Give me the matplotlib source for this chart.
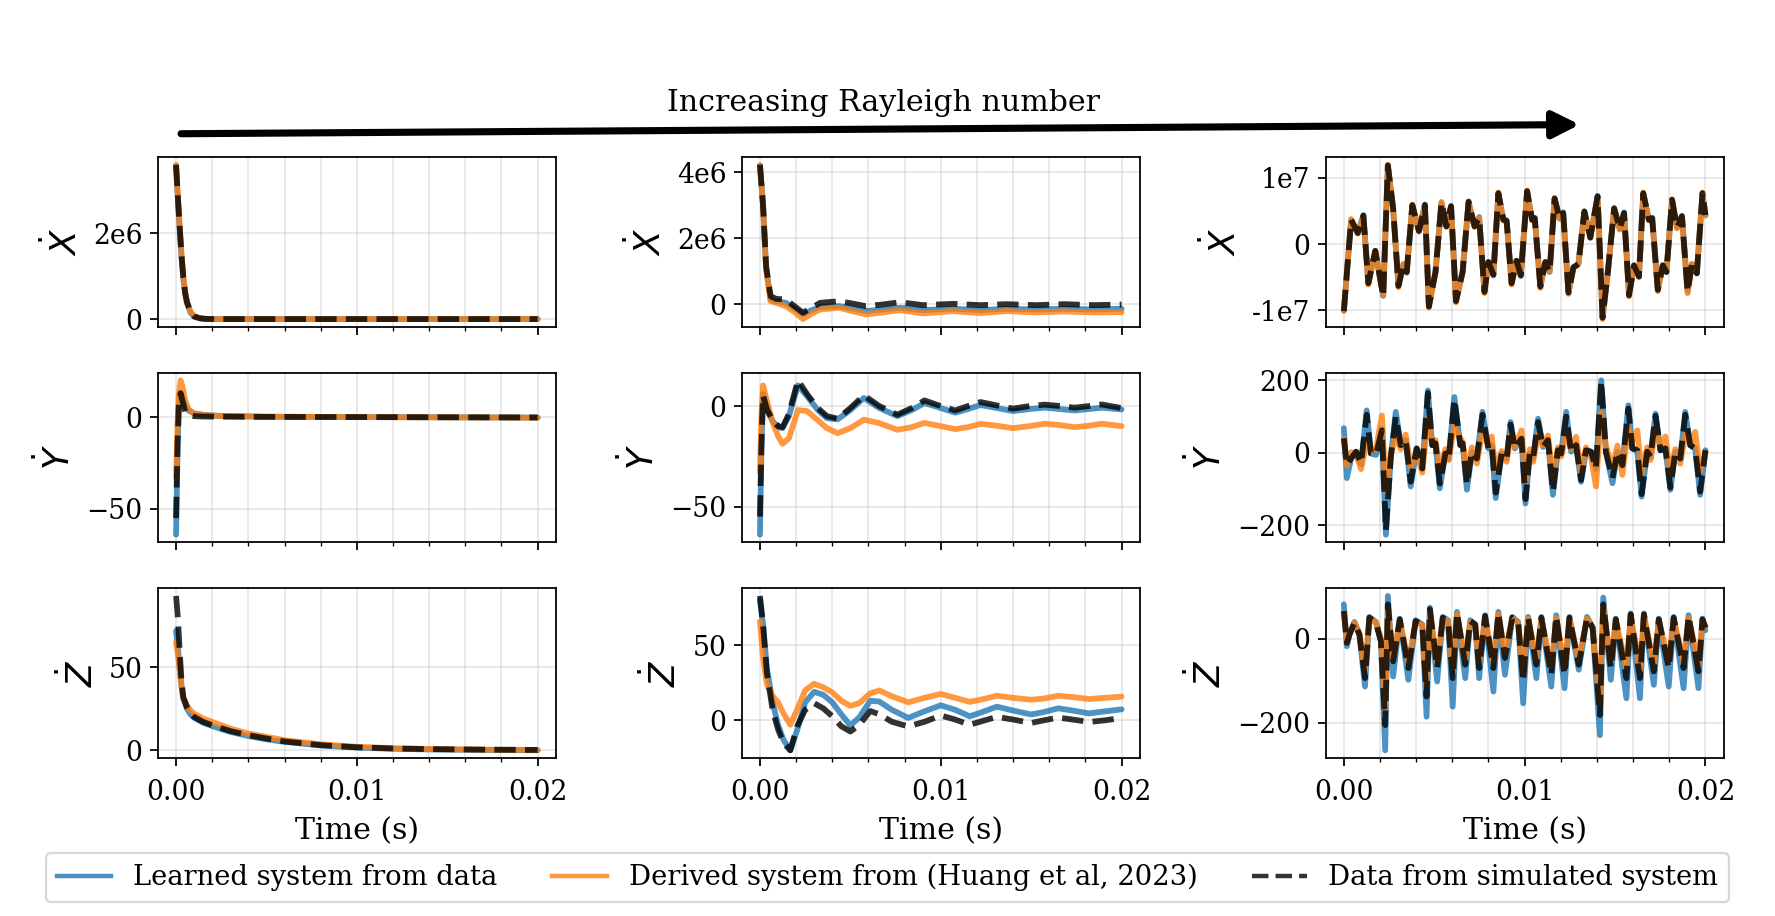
import numpy as np
import matplotlib
matplotlib.use("Agg")
import matplotlib.pyplot as plt
from matplotlib.lines import Line2D
from matplotlib.patches import FancyArrowPatch
from matplotlib.ticker import MultipleLocator, FormatStrFormatter, FuncFormatter

plt.rcParams['font.family'] = ['DejaVu Serif']
plt.rcParams['font.size'] = 12
plt.rcParams['xtick.labelsize'] = 12
plt.rcParams['ytick.labelsize'] = 12
plt.rcParams['xtick.major.pad'] = 6

# ---------------- data (time in ms) ----------------
# Column 1 (lowest Rayleigh number)
t1x = [0, 0.1, 0.2, 0.3, 0.4, 0.5, 0.6, 0.8, 1.0, 1.3, 1.6, 2.0, 20.0]
x1_learn = [3.55e6, 2.80e6, 2.10e6, 1.45e6, 0.95e6, 0.60e6, 0.38e6, 0.15e6, 0.06e6, 0.02e6, 0.005e6, 0.0, 0.0]
x1_deriv = [3.60e6, 2.86e6, 2.17e6, 1.52e6, 1.00e6, 0.63e6, 0.41e6, 0.17e6, 0.07e6, 0.02e6, 0.005e6, 0.0, 0.0]
x1_sim = [3.60e6, 2.85e6, 2.15e6, 1.50e6, 0.98e6, 0.62e6, 0.40e6, 0.16e6, 0.06e6, 0.02e6, 0.005e6, 0.0, 0.0]

t1y = [0, 0.08, 0.15, 0.25, 0.35, 0.5, 0.7, 1.0, 1.5, 2.5, 5, 10, 20]
y1_learn = [-64, -20, 5, 13, 11, 6, 3.5, 2, 1.2, 0.6, 0.2, 0.0, -0.3]
y1_deriv = [-33, -5, 12, 20, 17, 9, 4, 2, 1.2, 0.6, 0.2, 0.0, -0.3]
y1_sim = [-55, -15, 6, 13, 9, 3, 1, 0.5, 0.3, 0.2, 0.1, 0.0, -0.2]

t1z = [0, 0.1, 0.2, 0.3, 0.4, 0.6, 0.8, 1.0, 1.5, 2.0, 3.0, 4.0, 5.0, 6.0, 8.0, 10, 12, 14, 17, 20]
z1_learn = [72, 62, 50, 39, 31, 25, 21.5, 19.5, 16.5, 14.5, 11, 8.5, 6.5, 5, 2.8, 1.5, 0.8, 0.4, 0.1, -0.1]
z1_deriv = [65, 58, 48, 38, 31, 27, 24, 22, 19, 17, 13, 10, 8, 6, 3.5, 2, 1.2, 0.7, 0.3, 0.1]
z1_sim = [93, 80, 60, 42, 32, 26, 22, 20, 17, 15, 11.5, 9, 7, 5.2, 3, 1.7, 1.0, 0.6, 0.3, 0.1]

# Column 2
t2x = [0, 0.17, 0.34, 0.59, 0.9, 1.43, 1.9, 2.38, 2.85, 3.33, 4.38, 5.1, 5.85, 6.8, 7.75,
       9.0, 10.7, 12.2, 13.6, 15.3, 16.8, 18.5, 20]
x2_learn = [4.2e6, 3.0e6, 1.1e6, 0.15e6, 0.1e6, 0.05e6, -0.12e6, -0.3e6, -0.17e6, -0.08e6, -0.05e6,
            -0.12e6, -0.2e6, -0.15e6, -0.1e6, -0.17e6, -0.13e6, -0.17e6, -0.13e6, -0.15e6, -0.13e6,
            -0.15e6, -0.13e6]
x2_deriv = [4.2e6, 3.0e6, 1.05e6, 0.1e6, 0.05e6, -0.05e6, -0.22e6, -0.44e6, -0.28e6, -0.15e6, -0.1e6,
            -0.2e6, -0.3e6, -0.24e6, -0.17e6, -0.27e6, -0.2e6, -0.26e6, -0.2e6, -0.24e6, -0.21e6,
            -0.24e6, -0.23e6]
x2_sim = [4.22e6, 3.0e6, 1.16e6, 0.25e6, 0.17e6, 0.15e6, -0.05e6, -0.25e6, -0.1e6, 0.05e6, 0.1e6,
          0.03e6, -0.05e6, 0.0, 0.07e6, -0.02e6, 0.02e6, -0.02e6, 0.01e6, -0.02e6, 0.01e6, -0.02e6, 0.0]

t2y = [0, 0.08, 0.17, 0.4, 0.7, 1.0, 1.25, 1.6, 2.1, 2.6, 3.2, 3.7, 4.3, 5.0, 5.75, 6.6, 7.6,
       8.4, 9.1, 10.0, 10.8, 11.5, 12.2, 13.1, 14.0, 14.9, 15.75, 16.6, 17.4, 18.2, 18.9, 20]
y2_learn = [-64, -22, 6, -2, -7.5, -10.5, -11, -5, 10.3, 5, -2, -6, -6.6, -2, 4.0, -1, -5.0, -2,
            1.5, -1, -3.3, -1.5, 0.5, -1, -2.5, -1.5, -0.8, -1.5, -2.2, -1.5, -0.8, -1.7]
y2_deriv = [-33, -5, 10.3, 2, -8, -15, -18.8, -16, -2, -2.5, -7, -11, -13.5, -11, -6.8, -8.5,
            -11.8, -10.5, -8.4, -10, -11.5, -10.5, -8.9, -9.8, -11, -10, -8.8, -9.5, -10.5, -9.8,
            -8.8, -10]
y2_sim = [-55, -20, 5.3, -2, -7, -10, -10.5, -4, 12.8, 6, -1, -5, -6.3, -1, 5.3, 0, -4.3, -1,
          2.8, 0, -2.2, 0, 2.0, 0.3, -1.3, 0, 0.7, 0, -0.8, 0, 0.8, -1]

t2z = [0, 0.17, 0.38, 0.7, 1.0, 1.3, 1.68, 2.06, 2.5, 3.0, 3.5, 4.0, 4.5, 5.0, 5.5, 6.1, 6.6,
       7.3, 8.2, 9.1, 10.0, 10.8, 11.6, 12.3, 13.1, 14.0, 15.0, 15.7, 16.5, 17.3, 18.2, 19.1, 20]
z2_learn = [80, 64, 35, 12, -3, -13, -20, -6.4, 11.9, 19, 17, 12, 4, -3.5, 2, 13, 12.5, 7, 1.6,
            6, 10, 7, 2.7, 5.5, 9.1, 6.5, 3.9, 5.5, 8, 6.5, 4.6, 6, 7.3]
z2_deriv = [66, 42, 24, 16, 12, 4.6, -3, 7.3, 20, 24.4, 22, 18.7, 13, 9.6, 11.5, 18, 19.9, 16,
            12, 15, 17.6, 15, 12.3, 14, 16.4, 15, 13.7, 14.5, 16.4, 15.5, 14.2, 15, 15.8]
z2_sim = [83, 64, 32, 7, -6, -15, -20, -4, 7, 11.4, 8, 2.7, -4, -7.5, -3, 6.2, 4, -1, -4.1, -1,
          3.2, 0.5, -3, -0.5, 2.3, 0.5, -1.8, 0, 1.8, 0.5, -1.1, 0, 1.6]

# Column 3 (highest Rayleigh number)
t3x = [0.000, 0.403, 0.769, 1.080, 1.354, 1.738, 2.177, 2.434, 2.726, 3.019,
       3.294, 3.477, 3.788, 4.154, 4.483, 4.703, 5.069, 5.398, 5.672, 5.929,
       6.203, 6.569, 6.898, 7.228, 7.484, 7.777, 7.996, 8.271, 8.545, 8.820,
       9.003, 9.277, 9.552, 9.789, 10.137, 10.411, 10.558, 10.869, 11.143, 11.381,
       11.656, 11.930, 12.131, 12.424, 12.699, 12.973, 13.303, 13.632, 14.035, 14.309,
       14.583, 14.950, 15.261, 15.498, 15.773, 16.047, 16.322, 16.560, 16.871, 17.054,
       17.365, 17.639, 17.841, 18.152, 18.426, 18.700, 19.012, 19.250, 19.524, 19.835, 20.0]
x3_sim = [-10.1, 3.7, 1.7, 4.3, -5.9, -1.0, -7.9, 11.9, 5.4, -6.3,
          -3.0, -4.2, 5.9, 2.0, 5.9, -9.4, -4.2, 6.3, 2.7, 5.7,
          -8.6, -4.2, 6.4, 2.7, 4.0, -7.2, -2.7, -4.6, 7.7, 3.7,
          3.5, -5.9, -2.5, -4.7, 8.0, 3.7, 3.9, -6.4, -2.7, -4.2,
          6.9, 3.9, 4.7, -7.3, -3.5, -3.0, 4.9, 1.0, 7.2, -11.1,
          -4.7, 5.4, 2.3, 4.7, -7.7, -3.2, -4.9, 7.7, 3.7, 3.9,
          -6.9, -3.2, -4.2, 6.7, 2.5, 4.2, -7.2, -3.0, -4.4, 7.7, 4.4]
x3_learn = [-10.0, 3.6, 1.7, 4.4, -5.8, -1.0, -7.8, 11.8, 5.4, -6.2,
            -3.0, -4.3, 5.8, 2.0, 6.0, -9.3, -4.2, 6.2, 2.7, 5.8,
            -8.5, -4.2, 6.3, 2.7, 4.1, -7.1, -2.7, -4.7, 7.6, 3.7,
            3.6, -5.8, -2.5, -4.8, 7.9, 3.7, 4.0, -6.3, -2.7, -4.2,
            6.8, 3.9, 4.8, -7.2, -3.5, -3.0, 5.0, 1.0, 7.3, -11.0,
            -4.7, 5.3, 2.3, 4.8, -7.6, -3.2, -4.9, 7.6, 3.7, 4.0,
            -6.8, -3.2, -4.2, 6.6, 2.5, 4.3, -7.1, -3.0, -4.4, 7.6, 4.4]
x3_deriv = [-10.1, 3.8, 1.6, 4.2, -6.1, -1.0, -7.7, 12.0, 5.3, -6.5,
            -3.0, -4.1, 6.0, 1.9, 5.8, -9.6, -4.2, 6.4, 2.6, 5.6,
            -8.8, -4.1, 6.5, 2.6, 3.9, -7.4, -2.7, -4.5, 7.8, 3.6,
            3.4, -6.1, -2.5, -4.6, 8.1, 3.6, 3.8, -6.6, -2.7, -4.1,
            7.0, 3.8, 4.6, -7.5, -3.5, -3.0, 4.8, 1.0, 7.1, -11.3,
            -4.7, 5.5, 2.2, 4.6, -7.9, -3.2, -4.8, 7.8, 3.6, 3.8,
            -7.1, -3.2, -4.1, 6.8, 2.4, 4.1, -7.4, -3.0, -4.3, 7.8, 4.3]

t3y = [0.000, 0.165, 0.403, 0.677, 0.951, 1.263, 1.500, 1.775, 2.104, 2.324,
       2.598, 2.873, 3.147, 3.422, 3.696, 4.026, 4.337, 4.648, 4.886, 5.069,
       5.307, 5.618, 5.800, 6.111, 6.441, 6.569, 6.807, 7.081, 7.356, 7.667,
       7.996, 8.179, 8.399, 8.728, 9.003, 9.222, 9.460, 9.826, 10.046, 10.283,
       10.466, 10.741, 11.015, 11.290, 11.564, 11.839, 12.022, 12.296, 12.571, 12.845,
       13.120, 13.394, 13.669, 13.943, 14.236, 14.492, 14.858, 15.132, 15.407, 15.736,
       15.956, 16.230, 16.468, 16.779, 16.962, 17.237, 17.511, 17.786, 18.060, 18.334,
       18.609, 18.883, 19.158, 19.432, 19.707, 20.000]
y3_sim = [40, -34, -15, 3, -29, 105, -2, -6, 62, -215,
          -11, 100, 21, 35, -80, 12, -43, 165, 21, 26,
          -85, -2, -16, 148, 21, 26, -88, 3, -16, 105,
          12, 21, -110, -2, -16, 78, 12, 39, -128, -2,
          -16, 85, 16, 35, -107, 7, -2, 100, 3, 21,
          -75, 7, 3, -43, 198, 3, -70, 3, -34, 122,
          12, 7, -114, 3, -11, 102, 7, 12, -96, 3,
          -16, 105, 21, 12, -107, 7]
y3_learn = [68, -70, -15, 3, -32, 117, -2, -6, 65, -226,
            -11, 113, 21, 35, -93, 12, -45, 172, 21, 26,
            -98, -2, -16, 154, 21, 26, -102, 3, -16, 113,
            12, 21, -125, -2, -16, 85, 12, 39, -140, -2,
            -16, 94, 16, 35, -116, 7, -2, 113, 3, 21,
            -80, 7, 3, -45, 200, 3, -84, 3, -36, 131,
            12, 7, -121, 3, -11, 108, 7, 12, -102, 3,
            -16, 113, 21, 12, -116, 7]
y3_deriv = [38, -35, 2, -5, -45, 30, 5, 10, 103, -104,
            -5, 45, 10, 50, -40, 0, -55, 95, 30, 35,
            -45, 10, -20, 75, 40, 30, -55, 15, -30, 60,
            20, 45, -50, 5, -25, 50, 15, 62, -80, 10,
            -25, 50, 20, 48, -70, 15, -10, 55, 10, 44,
            -50, 15, -10, -93, 110, 20, -40, 20, -61, 70,
            30, 62, -57, 15, -20, 60, 20, 45, -60, 10,
            -30, 50, 25, 58, -50, 0]

t3z = [0.000, 0.165, 0.311, 0.586, 0.860, 1.171, 1.409, 1.775, 2.049, 2.287,
       2.434, 2.726, 3.092, 3.568, 3.971, 4.337, 4.575, 4.758, 5.160, 5.471,
       5.764, 6.020, 6.258, 6.715, 6.990, 7.264, 7.484, 7.813, 8.271, 8.545,
       8.911, 9.314, 9.643, 9.918, 10.192, 10.649, 10.924, 11.473, 11.747, 12.205,
       12.479, 12.992, 13.449, 13.760, 14.163, 14.346, 14.767, 15.041, 15.627, 15.864,
       16.377, 16.596, 17.145, 17.420, 17.969, 18.243, 18.792, 19.067, 19.615, 19.835, 20.000]
z3_sim = [66, -10, 10, 38, 10, -94, 50, 38, -6, -206,
          82, -54, 46, -70, 42, 34, -138, 70, -70, 50,
          42, -94, 62, -62, 42, 34, -70, 54, -70, 62,
          -46, 50, 38, -102, 50, -62, 50, -86, 54, -86,
          50, -62, 50, 26, -182, 82, -70, 46, -94, 58,
          -94, 58, -78, 46, -70, 50, -70, 54, -78, 46, 26]
z3_learn = [82, -18, 10, 40, 10, -114, 52, 40, -6, -266,
            102, -90, 48, -98, 44, 34, -186, 74, -102, 52,
            44, -162, 64, -94, 44, 34, -94, 56, -126, 64,
            -86, 52, 40, -154, 52, -94, 52, -114, 56, -118,
            52, -74, 52, 26, -230, 98, -98, 48, -142, 60,
            -142, 60, -110, 48, -114, 52, -118, 56, -118, 48, 20]
z3_deriv = [60, -5, 12, 38, 12, -75, 48, 38, 0, -170,
            70, -45, 44, -55, 40, 32, -110, 62, -55, 48,
            40, -70, 58, -50, 40, 32, -55, 50, -55, 58,
            -35, 48, 38, -80, 48, -50, 48, -65, 50, -65,
            48, -50, 48, 26, -150, 75, -55, 44, -70, 55,
            -70, 55, -60, 44, -55, 48, -55, 50, -60, 44, 30]

row_labels = [r'$\dot{X}$', r'$\dot{Y}$', r'$\dot{Z}$']
legend_labels = ['Learned system from data',
                 'Derived system from (Huang et al, 2023)',
                 'Data from simulated system']
x3_scale = 1e6

panels = [
    [(t1x, x1_learn, x1_deriv, x1_sim), (t1y, y1_learn, y1_deriv, y1_sim), (t1z, z1_learn, z1_deriv, z1_sim)],
    [(t2x, x2_learn, x2_deriv, x2_sim), (t2y, y2_learn, y2_deriv, y2_sim), (t2z, z2_learn, z2_deriv, z2_sim)],
    [(t3x, [v * x3_scale for v in x3_learn], [v * x3_scale for v in x3_deriv], [v * x3_scale for v in x3_sim]),
     (t3y, y3_learn, y3_deriv, y3_sim), (t3z, z3_learn, z3_deriv, z3_sim)],
]

# ---------------- figure ----------------
fig, axes = plt.subplots(3, 3, figsize=(1775 / 160, 916 / 160), dpi=160, sharex=True)
fig.subplots_adjust(left=0.089, right=0.971, top=0.8286, bottom=0.1725, wspace=0.468, hspace=0.27)

blue = '#1f77b4'
orange = '#ff7f0e'


def sci_fmt(v, pos):
    if v == 0:
        return '0'
    e = int(np.floor(np.log10(abs(v)) + 1e-9))
    m = v / 10 ** e
    return f"{m:.0f}e{e}"


for c in range(3):
    for r in range(3):
        ax = axes[r, c]
        t, learn, deriv, sim = panels[c][r]
        tt = np.array(t) / 1000.0
        ax.plot(tt, learn, color=blue, lw=2.6, alpha=0.8, solid_capstyle='round')
        ax.plot(tt, deriv, color=orange, lw=2.6, alpha=0.8, solid_capstyle='round')
        ax.plot(tt, sim, color='k', ls='--', lw=2.6, alpha=0.8)
        ax.xaxis.set_major_locator(MultipleLocator(0.01))
        ax.xaxis.set_minor_locator(MultipleLocator(0.002))
        ax.xaxis.set_major_formatter(FormatStrFormatter('%.2f'))
        ax.grid(True, which='both', alpha=0.3)
        ax.set_ylabel(row_labels[r], fontsize=16)
        if r == 0:
            ax.yaxis.set_major_formatter(FuncFormatter(sci_fmt))
        if r == 2:
            ax.set_xlabel('Time (s)', fontsize=13.5, labelpad=5)

handles = [Line2D([], [], color=blue, lw=2, alpha=0.8),
           Line2D([], [], color=orange, lw=2, alpha=0.8),
           Line2D([], [], color='k', ls='--', lw=2, alpha=0.8)]
fig.legend(handles, legend_labels, loc='lower center', ncol=3, bbox_to_anchor=(0.5, 0.0), fontsize=12.3)

arrow = FancyArrowPatch(posA=(0.102, 0.854), posB=(0.890, 0.864), transform=fig.transFigure,
                        arrowstyle='-|>', mutation_scale=25, lw=3.2, color='k',
                        capstyle='round', joinstyle='round', shrinkA=0, shrinkB=0)
fig.add_artist(arrow)
fig.text(0.498, 0.888, 'Increasing Rayleigh number', ha='center', va='center', fontsize=13.5)

fig.savefig('out.png', dpi=160)
